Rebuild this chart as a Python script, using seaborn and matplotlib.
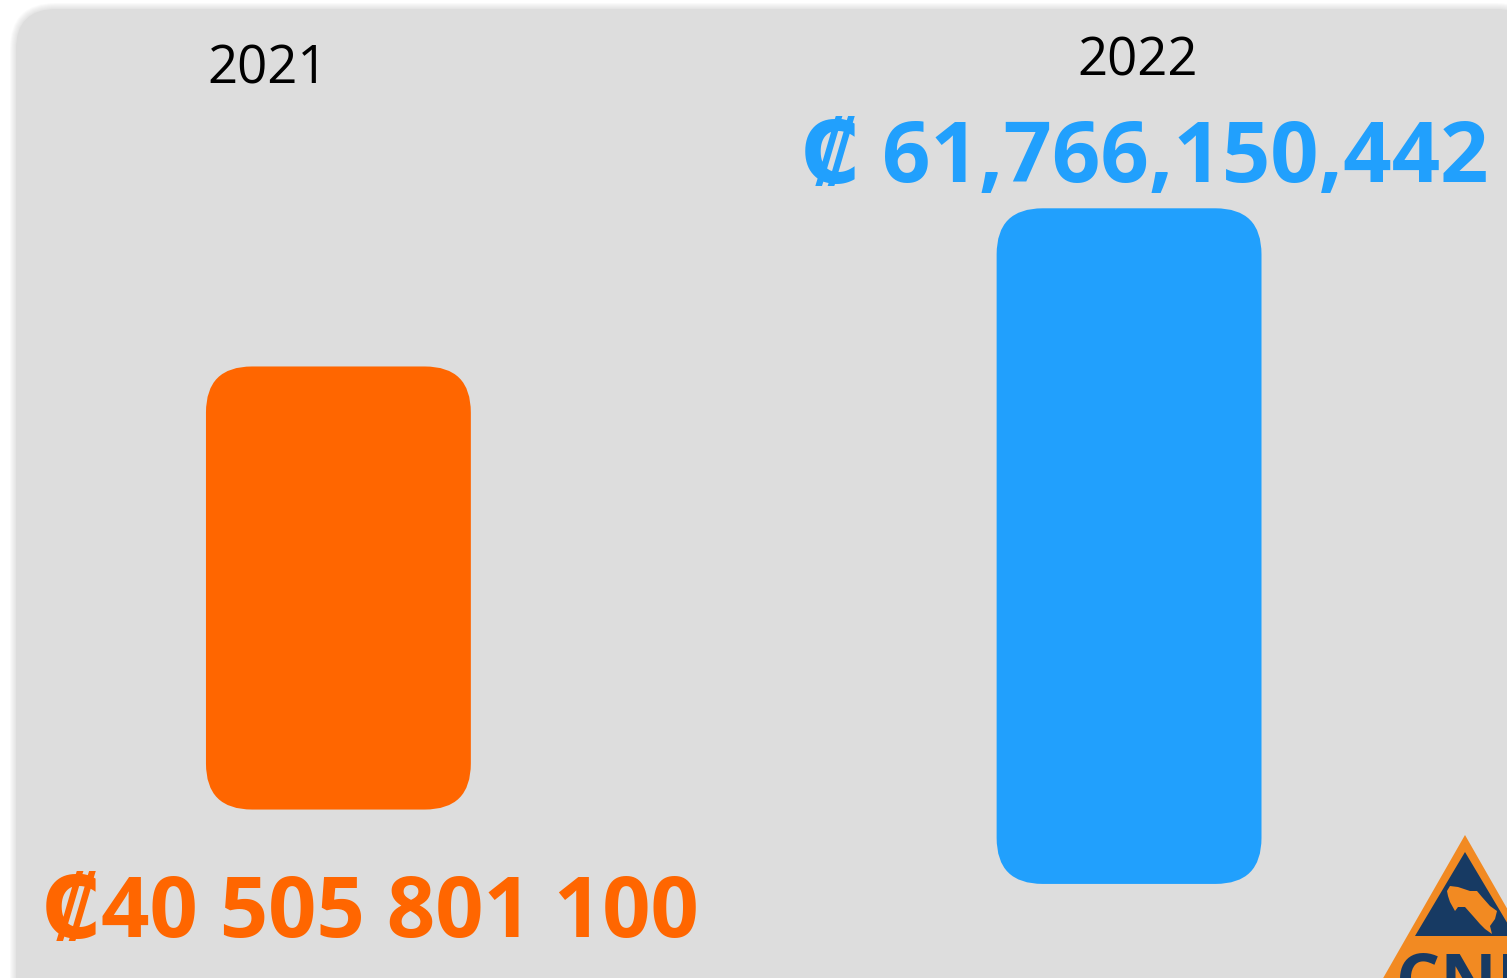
import numpy as np
import pandas as pd
import matplotlib
matplotlib.use("Agg")
import matplotlib.pyplot as plt
import seaborn as sns
from matplotlib.patches import FancyBboxPatch, Polygon
from matplotlib.transforms import IdentityTransform

# data
years = ["2021", "2022"]
amounts = [40505801100, 61766150442]
amount_labels = ["₡40 505 801 100", "₡ 61,766,150,442"]
bar_colors = ["#FF6600", "#21A0FD"]

W, H = 1507, 979
sns.set_theme(style="white")
plt.rcParams["font.family"] = ["Open Sans", "DejaVu Sans"]

fig = plt.figure(figsize=(W / 100, H / 100), dpi=100, facecolor="white")

# background panel in pixel coords (y down)
bg = fig.add_axes([0, 0, 1, 1])
bg.set_xlim(0, W)
bg.set_ylim(H, 0)
bg.axis("off")
for i in range(6, 0, -1):
    bg.add_patch(FancyBboxPatch((16 - i, 10 - i), 1520 + 2 * i, 1030 + 2 * i,
                                boxstyle=f"round,pad=0,rounding_size={40 + i}",
                                facecolor="#888888", edgecolor="none", alpha=0.035))
bg.add_patch(FancyBboxPatch((16, 10), 1520, 1030,
                            boxstyle="round,pad=0,rounding_size=40",
                            facecolor="#DDDDDD", edgecolor="none"))

# logo (bottom right)
orange_logo, navy = "#F28A22", "#173A63"
bg.add_patch(Polygon([(1465, 836), (1354, 1030), (1576, 1030)], closed=True,
                     facecolor=orange_logo, edgecolor="none"))
bg.add_patch(Polygon([(1465, 853), (1415, 937), (1515, 937)], closed=True,
                     facecolor=navy, edgecolor="none"))
cr = [(1447, 892), (1450, 887), (1458, 888), (1470, 892), (1477, 892), (1482, 898),
      (1490, 907), (1497, 912), (1495, 920), (1490, 927), (1492, 935), (1485, 930),
      (1480, 925), (1473, 917), (1465, 908), (1458, 908), (1455, 912), (1450, 903),
      (1448, 897)]
bg.add_patch(Polygon(cr, closed=True, facecolor=orange_logo, edgecolor="none"))
bg.text(1466, 1004, "CNE", ha="center", va="baseline", fontsize=50,
        fontweight="bold", color=navy)

# bars
ax = fig.add_axes([0, 0, 1, 1])
ax.patch.set_alpha(0)
df = pd.DataFrame({"year": years, "amount": np.array(amounts) / 1e9})
sns.barplot(data=df, x="year", y="amount", hue="year", palette=bar_colors,
            width=0.335, legend=False, ax=ax)
ax.set_xlim(-0.428, 1.478)
ax.set_ylim(0, 89.5)
ax.axis("off")

offsets = [15.4, 8.6]  # bars float above the axis
bars = sorted(ax.patches, key=lambda p: p.get_x())
for i, p in enumerate(bars):
    x0, w, h = p.get_x(), p.get_width(), p.get_height()
    (px0, py0), (px1, py1) = ax.transData.transform([(x0, offsets[i]),
                                                     (x0 + w, offsets[i] + h)])
    rb = FancyBboxPatch((px0, py0), px1 - px0, py1 - py0,
                        boxstyle="round,pad=0,rounding_size=46",
                        facecolor=bar_colors[i], edgecolor="none",
                        transform=IdentityTransform())
    p.remove()
    ax.add_patch(rb)

# texts
fig.text(268 / W, 1 - 84 / H, years[0], ha="center", va="baseline",
         fontsize=38, color="black")
fig.text(1138 / W, 1 - 75 / H, years[1], ha="center", va="baseline",
         fontsize=38, color="black")
fig.text(370 / W, 1 - 937 / H, amount_labels[0], ha="center", va="baseline",
         fontsize=61, fontweight="bold", color=bar_colors[0])
fig.text(1145 / W, 1 - 182 / H, amount_labels[1], ha="center", va="baseline",
         fontsize=61, fontweight="bold", color=bar_colors[1])

fig.savefig("out.png", dpi=100, facecolor="white")
